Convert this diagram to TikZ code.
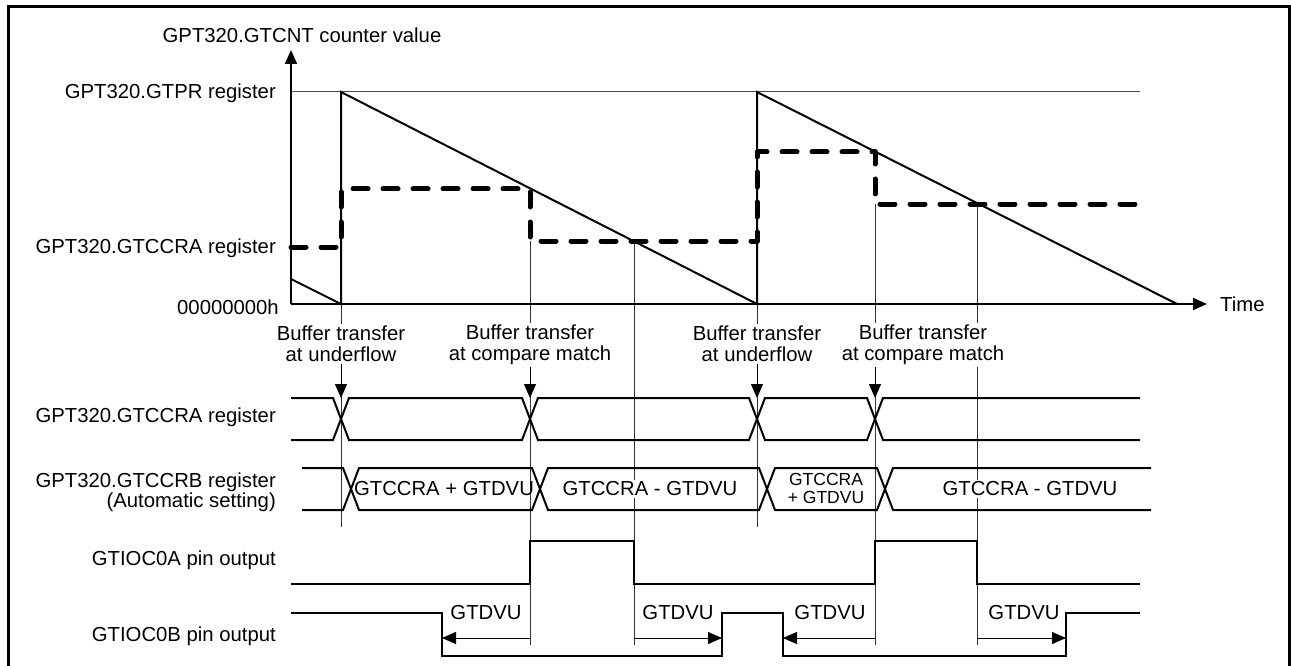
\documentclass[tikz,border=0pt]{standalone}
\usepackage{fontspec}
\setmainfont{Liberation Sans}
\usepackage{tikz}
\usetikzlibrary{arrows.meta, positioning}

\begin{document}
\begin{tikzpicture}[
    x=1pt, y=-1pt,
    >={Triangle[length=14pt, width=12pt]},
    lab/.style={font=\fontsize{20.3}{20.5}\selectfont, inner sep=2pt},
    llab/.style={lab, anchor=east, align=right},
    buf/.style={lab, align=center, fill=white},
    sig/.style={line width=2pt},
    guide/.style={line width=1pt, draw=black!80},
    arr/.style={->, line width=1pt},
    cmp/.style={line width=5pt, dash pattern=on 15pt off 15pt,
                line cap=round, line join=round}
]

\def\xo{291}
\def\xa{341}
\def\xb{530}
\def\xc{634}
\def\xd{757}
\def\xe{875}
\def\xf{977}
\def\xr{1140}

\useasboundingbox (0,0) rectangle (1291,666);
\draw[line width=3pt] (8,666) -- (8,7) -- (1289.5,7) -- (1289.5,666);

% counter
\draw[line width=1pt, draw=black!70] (\xo,92) -- (\xr,92);
\draw[guide] (\xa,304) -- (\xa,527);
\draw[guide] (\xb,241) -- (\xb,645);
\draw[guide] (\xc,241) -- (\xc,645);
\draw[guide] (\xd,304) -- (\xd,527);
\draw[guide] (\xe,204) -- (\xe,645);
\draw[guide] (\xf,204) -- (\xf,645);

\draw[sig] (\xo,279) -- (\xa,304) -- (\xa,92) -- (\xd,304) -- (\xd,92) -- (1177,304);
\draw[cmp] (\xo,247) -- (\xa,247) -- (\xa,189) -- (\xb,189) -- (\xb,241)
  -- (\xd,241) -- (\xd,152) -- (\xe,152) -- (\xe,204) -- (1137,204);

\coordinate (orig) at (\xo,304);
\draw[sig, ->] (orig) -- (\xo,50);
\draw[sig, ->] (orig) -- (1207,304) coordinate (tend);
\node[lab, right=11pt of tend] (time) {Time};

\node[lab] (cnt) at (302,35) {GPT320.GTCNT counter value};
\node[llab] (pr) at (278,93) {GPT320.GTPR register};
\node[llab] (ccra) at (278,248) {GPT320.GTCCRA register};
\node[llab] (zero) at (281,307) {00000000h};

% buffer transfers
\coordinate (e1) at (\xa,398);
\coordinate (e2) at (\xb,398);
\coordinate (e3) at (\xd,398);
\coordinate (e4) at (\xe,398);
\node[buf] (bu1) at (\xa,344) {Buffer transfer\\at underflow};
\node[buf] (bu2) at (\xb,345) {Buffer transfer\\at compare match};
\node[buf] (bu3) at (\xd,344) {Buffer transfer\\at underflow};
\node[buf] (bu4) at (923,345) {Buffer transfer\\at compare match};
\draw[arr] (bu1.south -| e1) -- (e1);
\draw[arr] (bu2.south -| e2) -- (e2);
\draw[arr] (bu3.south -| e3) -- (e3);
\draw[arr] (bu4.south -| e4) -- (e4);

% GTCCRA
\node[llab] (ra) at (278,417) {GPT320.GTCCRA register};
\draw[sig] (\xo,398) -- ({\xa-8},398) -- ({\xa+8},440) -- ({\xb-8},440) -- ({\xb+8},398)
  -- ({\xd-8},398) -- ({\xd+8},440) -- ({\xe-8},440) -- ({\xe+8},398) -- (\xr,398);
\draw[sig] (\xo,440) -- ({\xa-8},440) -- ({\xa+8},398) -- ({\xb-8},398) -- ({\xb+8},440)
  -- ({\xd-8},440) -- ({\xd+8},398) -- ({\xe-8},398) -- ({\xe+8},440) -- (\xr,440);

% GTCCRB
\node[llab] (rb) at (278,492) {GPT320.GTCCRB register\\(Automatic setting)};
\draw[sig] (302,468) -- ({\xa+2},468) -- ({\xa+18},510) -- ({\xb+2},510) -- ({\xb+18},468)
  -- ({\xd+2},468) -- ({\xd+18},510) -- ({\xe+2},510) -- ({\xe+18},468) -- (1151,468);
\draw[sig] (302,510) -- ({\xa+2},510) -- ({\xa+18},468) -- ({\xb+2},468) -- ({\xb+18},510)
  -- ({\xd+2},510) -- ({\xd+18},468) -- ({\xe+2},468) -- ({\xe+18},510) -- (1151,510);
\node[lab] (ba1) at (444,489) {GTCCRA + GTDVU};
\node[lab, fill=white] (ba2) at (650,489) {GTCCRA - GTDVU};
\node[lab, align=center, font=\fontsize{17.5}{18}\selectfont] (ba3) at (826,488)
  {GTCCRA\\+ GTDVU};
\node[lab, fill=white] (ba4) at (1030,489) {GTCCRA - GTDVU};

% pins
\node[llab] (oa) at (278,560) {GTIOC0A pin output};
\draw[sig] (\xo,584) -- (\xb,584) -- (\xb,541) -- (\xc,541) -- (\xc,584)
  -- (\xe,584) -- (\xe,541) -- (\xf,541) -- (\xf,584) -- (\xr,584);

\node[llab] (ob) at (278,636) {GTIOC0B pin output};
\draw[sig] (\xo,613) -- (442,613) -- (442,656) -- (722,656) -- (722,613)
  -- (783,613) -- (783,656) -- (1066,656) -- (1066,613) -- (\xr,613);

\draw[arr] (\xb,638) -- (442,638);
\draw[arr] (\xc,638) -- (722,638);
\draw[arr] (\xe,638) -- (783,638);
\draw[arr] (\xf,638) -- (1066,638);
\node[lab] (dv1) at (486,613) {GTDVU};
\node[lab] (dv2) at (678,613) {GTDVU};
\node[lab] (dv3) at (830,613) {GTDVU};
\node[lab] (dv4) at (1024,613) {GTDVU};

\end{tikzpicture}
\end{document}
